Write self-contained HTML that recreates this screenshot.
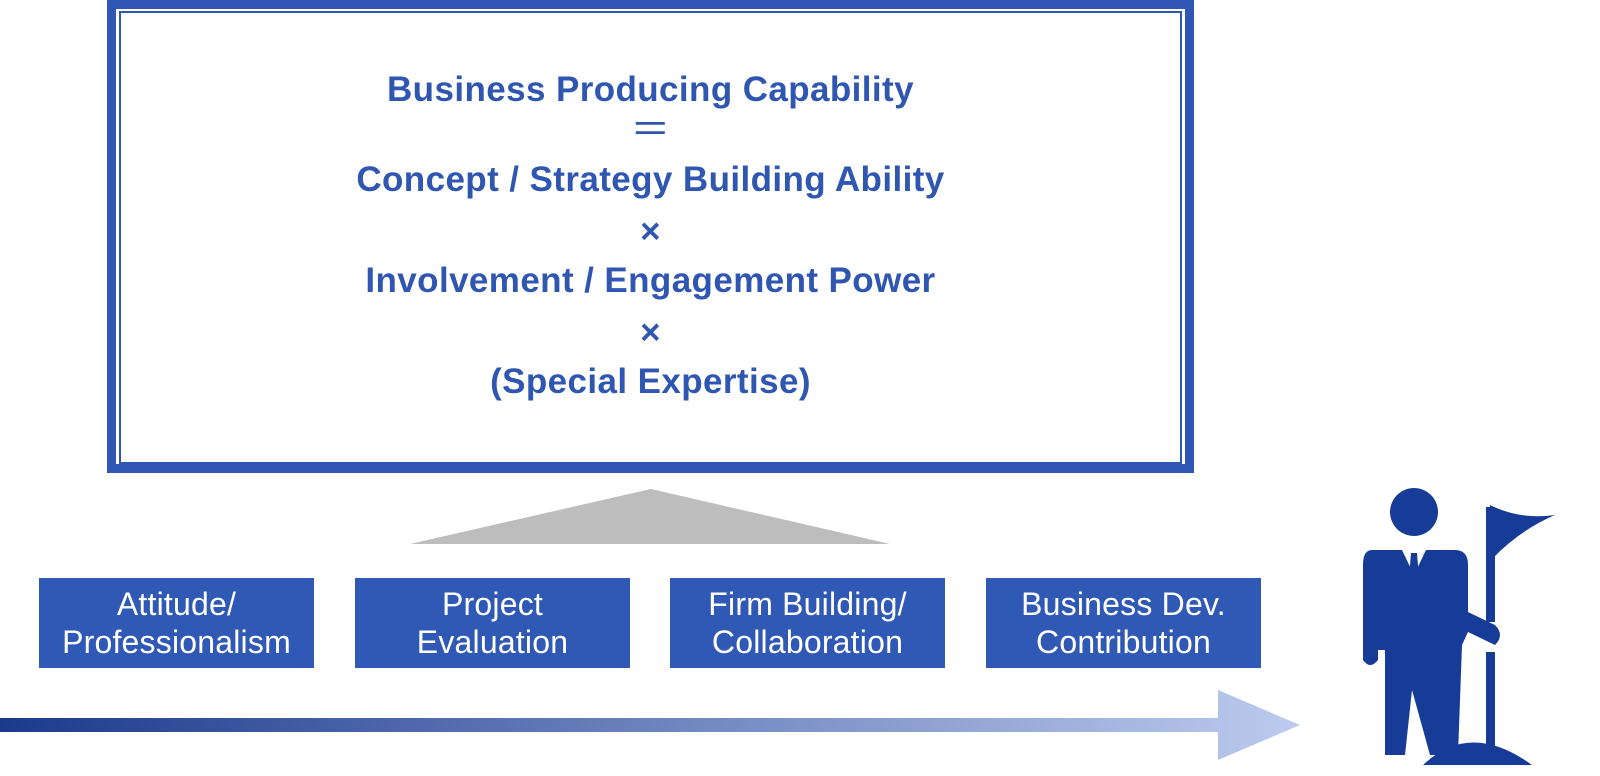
<!DOCTYPE html>
<html><head><meta charset="utf-8"><style>
body{margin:0;width:1600px;height:776px;background:#fff;position:relative;overflow:hidden;font-family:"Liberation Sans",sans-serif}
.outer{position:absolute;left:107px;top:0;width:1069px;height:455px;border:9px solid #2f56b4;}
.inner{position:absolute;left:119px;top:11px;width:1059px;height:449px;border:2.5px solid #2f56b4;}
.t{position:absolute;left:107px;width:1087px;text-align:center;color:#2f56b0;font-weight:bold;font-size:35px;letter-spacing:0.4px;line-height:36px}
.b{position:absolute;top:578px;width:275px;height:90px;background:#3059b6;color:#fff;font-size:32px;letter-spacing:0.2px;line-height:38px;text-align:center;display:flex;align-items:center;justify-content:center}
</style></head><body>
<div class="outer"></div><div class="inner"></div>
<div class="t" style="top:72px">Business Producing Capability</div>
<div class="t" style="top:112px;font-size:40px;font-weight:normal;">＝</div>
<div class="t" style="top:162px">Concept / Strategy Building Ability</div>
<div class="t" style="top:214px">×</div>
<div class="t" style="top:263px">Involvement / Engagement Power</div>
<div class="t" style="top:315px">×</div>
<div class="t" style="top:364px">(Special Expertise)</div>
<svg style="position:absolute;left:0;top:0" width="1600" height="776">
<defs><linearGradient id="g" x1="0" x2="1"><stop offset="0" stop-color="#1c3a8c"/><stop offset="1" stop-color="#bccbee"/></linearGradient></defs>
<polygon points="651,489 890,544 410,544" fill="#bdbdbd"/>
<polygon points="0,718 1218,718 1218,690 1300,725 1218,760 1218,732 0,732" fill="url(#g)"/>
<g fill="#173c98">
<circle cx="1414" cy="512" r="24"/>
<path d="M1372,550 L1455,550 Q1468,550 1468,565 L1468,612 L1495,625 Q1505,635 1495,645 L1468,632 L1462,645 L1458,755 L1430,755 L1412,690 L1405,755 L1385,755 L1385,650 L1378,650 L1378,660 Q1370,670 1363,660 L1363,565 Q1363,550 1372,550Z"/>
<rect x="1486" y="507" width="9" height="115"/>
<rect x="1486" y="652" width="9" height="100"/>
<path d="M1490,505 Q1520,520 1555,515 Q1520,530 1493,558Z"/>
<path d="M1423,765 Q1470,720 1532,765Z"/>
</g>
<path d="M1402,550 L1414,575 L1426,550" fill="#fff"/>
<path d="M1411,553 L1417,553 L1419,578 L1414,588 L1409,578Z" fill="#173c98"/>
</svg>
<div class="b" style="left:39px">Attitude/<br>Professionalism</div>
<div class="b" style="left:355px">Project<br>Evaluation</div>
<div class="b" style="left:670px">Firm Building/<br>Collaboration</div>
<div class="b" style="left:986px">Business Dev.<br>Contribution</div>
</body></html>
